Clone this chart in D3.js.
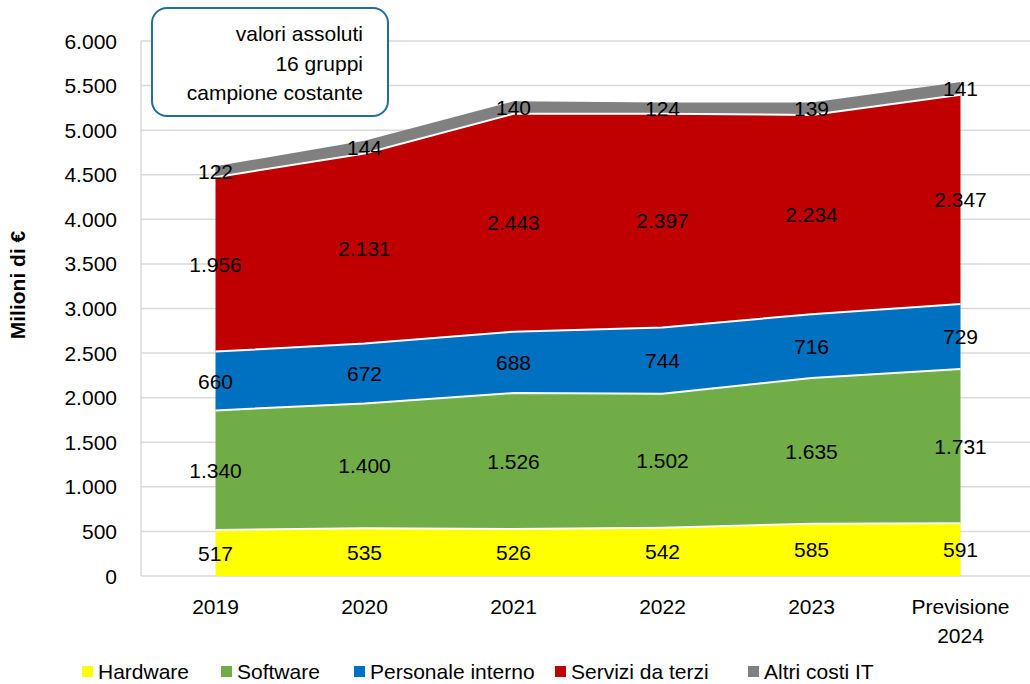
<!DOCTYPE html>
<html>
<head>
  <meta charset="utf-8">
  <script src="https://cdnjs.cloudflare.com/ajax/libs/d3/7.8.5/d3.min.js"></script>
  <style>
    body { margin: 0; background: #fff; }
    text { font-family: "Liberation Sans", Arial, sans-serif; fill: #000; }
  </style>
</head>
<body>
  <script>
    var years = ["2019", "2020", "2021", "2022", "2023", "Previsione 2024"];
    var seriesNames = ["Hardware", "Software", "Personale interno", "Servizi da terzi", "Altri costi IT"];
    var colors = ["#FFFF00", "#70AD47", "#0070C0", "#C00000", "#808080"];
    var hardware = [517, 535, 526, 542, 585, 591];
    var software = [1340, 1400, 1526, 1502, 1635, 1731];
    var personale = [660, 672, 688, 744, 716, 729];
    var servizi = [1956, 2131, 2443, 2397, 2234, 2347];
    var altri = [122, 144, 140, 124, 139, 141];
    var yTicks = [0, 500, 1000, 1500, 2000, 2500, 3000, 3500, 4000, 4500, 5000, 5500, 6000];
    var boxLines = ["valori assoluti", "16 gruppi", "campione costante"];

    var width = 1030, height = 684;
    var fs = "21px";
    var fmt = function(v) { return d3.format(",")(v).replace(/,/g, "."); };

    var rows = years.map(function(y, i) {
      return { year: y, Hardware: hardware[i], Software: software[i], "Personale interno": personale[i],
               "Servizi da terzi": servizi[i], "Altri costi IT": altri[i] };
    });

    var svg = d3.select("body").append("svg")
      .attr("width", width)
      .attr("height", height);

    var x = d3.scaleBand().domain(years).range([141, 1035]);
    var cx = function(d) { return x(d) + x.bandwidth() / 2; };
    var y = d3.scaleLinear().domain([0, 6000]).range([576, 41]);

    // gridlines
    svg.append("g").selectAll("line")
      .data(yTicks)
      .enter().append("line")
      .attr("x1", 141).attr("x2", width)
      .attr("y1", function(d) { return y(d); })
      .attr("y2", function(d) { return y(d); })
      .attr("stroke", "#D9D9D9")
      .attr("stroke-width", 1.5);

    svg.append("line")
      .attr("x1", 141).attr("x2", 141)
      .attr("y1", y(6000)).attr("y2", y(0))
      .attr("stroke", "#D9D9D9")
      .attr("stroke-width", 1.5);

    // y tick labels
    svg.append("g").selectAll("text")
      .data(yTicks)
      .enter().append("text")
      .attr("x", 117)
      .attr("y", function(d) { return y(d); })
      .attr("dy", "0.36em")
      .attr("text-anchor", "end")
      .style("font-size", fs)
      .text(fmt);

    svg.append("text")
      .attr("transform", "translate(25,285) rotate(-90)")
      .attr("text-anchor", "middle")
      .style("font-size", "21px")
      .style("font-weight", "bold")
      .text("Milioni di €");

    var stack = d3.stack().keys(seriesNames);
    var layers = stack(rows);

    var area = d3.area()
      .x(function(d) { return cx(d.data.year); })
      .y0(function(d) { return y(d[0]); })
      .y1(function(d) { return y(d[1]); });

    var topLine = d3.line()
      .x(function(d) { return cx(d.data.year); })
      .y(function(d) { return y(d[1]); });

    svg.append("g").selectAll("path")
      .data(layers)
      .enter().append("path")
      .attr("d", area)
      .attr("fill", function(d, i) { return colors[i]; });

    svg.append("g").selectAll("path")
      .data(layers.slice(0, 4))
      .enter().append("path")
      .attr("d", topLine)
      .attr("fill", "none")
      .attr("stroke", "#fff")
      .attr("stroke-width", 2);

    // data labels
    layers.forEach(function(layer) {
      svg.append("g").selectAll("text")
        .data(layer)
        .enter().append("text")
        .attr("x", function(d) { return cx(d.data.year); })
        .attr("y", function(d) { return y((d[0] + d[1]) / 2); })
        .attr("dy", "0.36em")
        .attr("text-anchor", "middle")
        .style("font-size", fs)
        .text(function(d) { return fmt(d[1] - d[0]); });
    });

    // x labels
    var xl = svg.append("g").selectAll("text")
      .data(years)
      .enter().append("text")
      .attr("x", function(d) { return cx(d); })
      .attr("y", 614)
      .attr("text-anchor", "middle")
      .style("font-size", fs);
    xl.each(function(d) {
      var parts = d.split(" ");
      var t = d3.select(this);
      parts.forEach(function(p, i) {
        t.append("tspan")
          .attr("x", cx(d))
          .attr("dy", i === 0 ? 0 : 29)
          .text(p);
      });
    });

    // annotation box
    svg.append("rect")
      .attr("x", 152).attr("y", 8)
      .attr("width", 236).attr("height", 108)
      .attr("rx", 15).attr("ry", 15)
      .attr("fill", "#fff")
      .attr("stroke", "#1F6E9C")
      .attr("stroke-width", 2);

    svg.append("g").selectAll("text")
      .data(boxLines)
      .enter().append("text")
      .attr("x", 363)
      .attr("y", function(d, i) { return 41 + i * 29.5; })
      .attr("text-anchor", "end")
      .style("font-size", fs)
      .text(function(d) { return d; });

    // legend
    var legendX = [82, 221, 354, 555, 748];
    var lg = svg.append("g").selectAll("g")
      .data(seriesNames)
      .enter().append("g")
      .attr("transform", function(d, i) { return "translate(" + legendX[i] + ",671)"; });
    lg.append("rect")
      .attr("x", 0).attr("y", -5)
      .attr("width", 11).attr("height", 11)
      .attr("fill", function(d, i) { return colors[i]; });
    lg.append("text")
      .attr("x", 16)
      .attr("y", 0)
      .attr("dy", "0.36em")
      .style("font-size", "21px")
      .text(function(d) { return d; });
  </script>
</body>
</html>
